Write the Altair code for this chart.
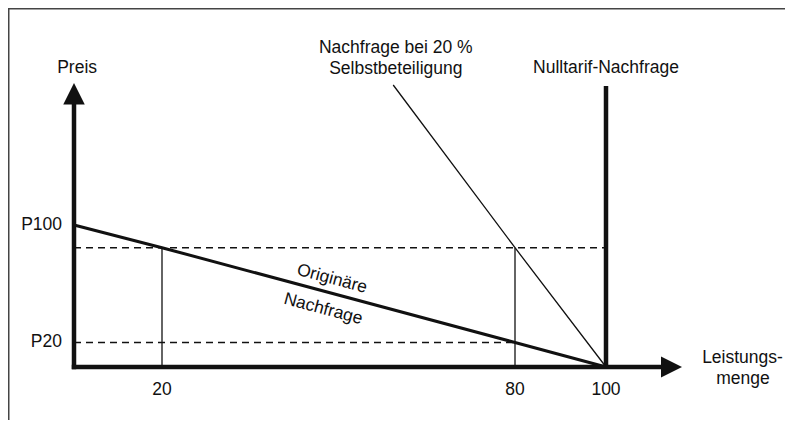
import altair as alt
import pandas as pd

# ---------------- values ----------------
QTY_TICKS = [20, 80, 100]                 # labelled quantities (Leistungsmenge)
QTY_TICK_LABELS = ["20", "80", "100"]
PRICE_LABELS = ["P100", "P20"]
PRICE_LEVELS = [10.0, 1.73]               # intercept of original demand, P20
P_UPPER = 8.4                             # upper dashed price level

ORIG_Q = [0, 20, 80, 100]                 # originäre Nachfrage
ORIG_P = [10.0, 8.4, 1.73, 0.0]
SB_Q = [59.3, 80, 100]                    # Nachfrage bei 20 % Selbstbeteiligung
SB_P = [19.86, 8.4, 0.0]
NULL_Q = [100]                            # Nulltarif-Nachfrage
NULL_P_TOP = [19.79]

AXIS_X_END = 116.7
AXIS_Y_END = 20.0

# ---------------- layout ----------------
W, H = 777, 412
FONT = "Liberation Sans"
FS = 17.5
INK = "#111111"

xscale = alt.Scale(domain=[0, 20, 80, 100], range=[66, 154, 507, 598], nice=False, zero=False)
yscale = alt.Scale(domain=[0, 20], range=[359, 75], nice=False, zero=False)


def X(f):
    return alt.X(f"{f}:Q", scale=xscale, axis=None)


def Y(f):
    return alt.Y(f"{f}:Q", scale=yscale, axis=None)


# frame (top and left edge of the scanned figure)
frame_top = alt.Chart(pd.DataFrame({"a": [0]})).mark_rule(color="#444444", strokeWidth=1.5).encode(
    x=alt.value(0), x2=alt.value(W), y=alt.value(0.75))
frame_left = alt.Chart(pd.DataFrame({"a": [0]})).mark_rule(color="#444444", strokeWidth=1.5).encode(
    x=alt.value(0.75), y=alt.value(0), y2=alt.value(H))

# dashed price levels
dashed_df = pd.DataFrame({"q0": [0, 0], "q1": [NULL_Q[0], QTY_TICKS[1]], "p": [P_UPPER, PRICE_LEVELS[1]]})
dashed = alt.Chart(dashed_df).mark_rule(strokeDash=[7, 5], strokeWidth=1.5, color=INK).encode(
    x=X("q0"), x2=alt.X2("q1"), y=Y("p"))

# thin verticals at 20 and 80
vert_df = pd.DataFrame({"q": QTY_TICKS[:2], "p0": [0, 0], "p1": [P_UPPER, P_UPPER]})
verts = alt.Chart(vert_df).mark_rule(strokeWidth=1.3, color=INK).encode(
    x=X("q"), y=Y("p0"), y2=alt.Y2("p1"))

# original demand
orig_df = pd.DataFrame({"q": ORIG_Q, "p": ORIG_P})
orig = alt.Chart(orig_df).mark_line(strokeWidth=3, color=INK).encode(x=X("q"), y=Y("p"), order="q:Q")

# demand with co-payment
sb_df = pd.DataFrame({"q": SB_Q, "p": SB_P})
sb = alt.Chart(sb_df).mark_line(strokeWidth=1.3, color=INK).encode(x=X("q"), y=Y("p"), order="q:Q")

# zero-tariff demand
null_df = pd.DataFrame({"q": NULL_Q, "p0": [0], "p1": NULL_P_TOP})
null = alt.Chart(null_df).mark_rule(strokeWidth=4.5, color=INK).encode(
    x=X("q"), y=Y("p0"), y2=alt.Y2("p1"))

# axes
yaxis_df = pd.DataFrame({"q": [0], "p0": [0], "p1": [AXIS_Y_END - 1]})
yaxis = alt.Chart(yaxis_df).mark_rule(strokeWidth=4.5, color=INK, strokeCap="square").encode(
    x=X("q"), y=Y("p0"), y2=alt.Y2("p1"))
xaxis_df = pd.DataFrame({"q0": [0], "q1": [AXIS_X_END - 3], "p": [0]})
xaxis = alt.Chart(xaxis_df).mark_rule(strokeWidth=4.5, color=INK, strokeCap="square").encode(
    x=X("q0"), x2=alt.X2("q1"), y=Y("p"))

arrow_up = alt.Chart(pd.DataFrame({"q": [0], "p": [AXIS_Y_END]})).mark_point(
    shape="M0,0L-1,2L1,2Z", size=462, filled=True, opacity=1, color=INK, strokeWidth=0).encode(
    x=X("q"), y=Y("p"))
arrow_right = alt.Chart(pd.DataFrame({"q": [AXIS_X_END], "p": [0]})).mark_point(
    shape="M0,0L-2,-1L-2,1Z", size=441, filled=True, opacity=1, color=INK, strokeWidth=0).encode(
    x=X("q"), y=Y("p"))

# tick labels
tick_df = pd.DataFrame({"q": QTY_TICKS, "p": [0, 0, 0], "t": QTY_TICK_LABELS})
ticks = alt.Chart(tick_df).mark_text(font=FONT, fontSize=FS, color=INK, dy=28,
                                     baseline="alphabetic", align="center").encode(
    x=X("q"), y=Y("p"), text="t:N")

plab_df = pd.DataFrame({"q": [0, 0], "p": PRICE_LEVELS, "t": PRICE_LABELS})
plabs = alt.Chart(plab_df).mark_text(font=FONT, fontSize=FS, color=INK, dx=-12,
                                     baseline="middle", align="right").encode(
    x=X("q"), y=Y("p"), text="t:N")

# annotations
ann_df = pd.DataFrame({
    "t": ["Preis", "Nachfrage bei 20 %", "Selbstbeteiligung", "Nulltarif-Nachfrage",
          "Leistungs-", "menge"],
    "q": [0.7, 59.74, 59.74, 100, 130.0, 130.1],
    "p": [20.67, 22.13, 20.63, 20.7, 0.28, -1.2],
})
ann = alt.Chart(ann_df).mark_text(font=FONT, fontSize=FS, color=INK, baseline="alphabetic",
                                  align="center").encode(x=X("q"), y=Y("p"), text="t:N")

rot_df = pd.DataFrame({"t": ["Originäre", "Nachfrage"], "q": [48.9, 47.4], "p": [6.2, 4.08]})
rot = alt.Chart(rot_df).mark_text(font=FONT, fontSize=FS, color=INK, baseline="middle",
                                  align="center", angle=15).encode(x=X("q"), y=Y("p"), text="t:N")

chart = alt.layer(
    frame_top, frame_left, dashed, verts, sb, orig, null, yaxis, xaxis, arrow_up, arrow_right,
    ticks, plabs, ann, rot,
).properties(
    width=W, height=H,
    autosize=alt.AutoSizeParams(type="none"),
    padding=0,
    background="white",
).configure_view(strokeWidth=0)

chart.save("out.html", embed_options={"renderer": "svg", "actions": False})
